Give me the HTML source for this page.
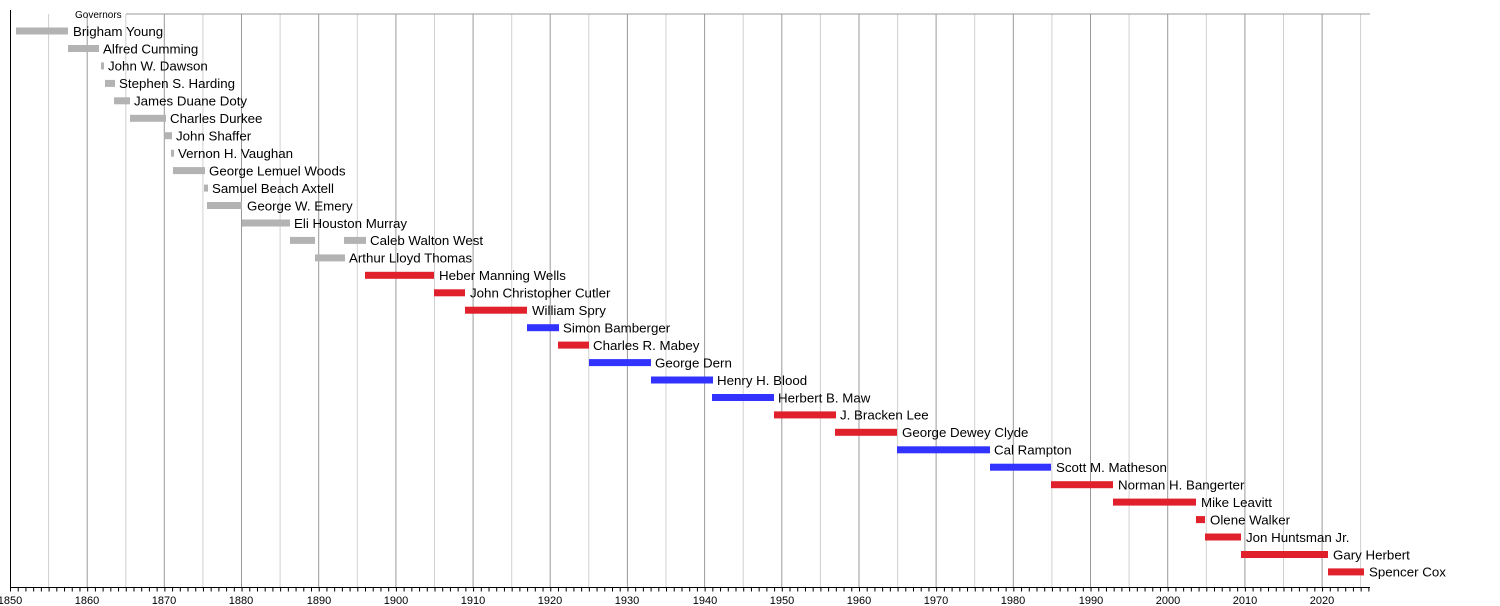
<!DOCTYPE html>
<html><head><meta charset="utf-8"><style>
html,body{margin:0;padding:0;background:#fff}
svg{display:block;font-family:"Liberation Sans",Arial,sans-serif}
</style></head><body>
<svg width="1500" height="606" xmlns="http://www.w3.org/2000/svg">
<g stroke-width="1">
<g stroke="#d0d0d0">
<line x1="48.6" y1="14" x2="48.6" y2="587"/><line x1="125.8" y1="14" x2="125.8" y2="587"/><line x1="202.9" y1="14" x2="202.9" y2="587"/><line x1="280.1" y1="14" x2="280.1" y2="587"/><line x1="357.3" y1="14" x2="357.3" y2="587"/><line x1="434.5" y1="14" x2="434.5" y2="587"/><line x1="511.7" y1="14" x2="511.7" y2="587"/><line x1="588.8" y1="14" x2="588.8" y2="587"/><line x1="666.0" y1="14" x2="666.0" y2="587"/><line x1="743.2" y1="14" x2="743.2" y2="587"/><line x1="820.4" y1="14" x2="820.4" y2="587"/><line x1="897.6" y1="14" x2="897.6" y2="587"/><line x1="974.7" y1="14" x2="974.7" y2="587"/><line x1="1051.9" y1="14" x2="1051.9" y2="587"/><line x1="1129.1" y1="14" x2="1129.1" y2="587"/><line x1="1206.3" y1="14" x2="1206.3" y2="587"/><line x1="1283.5" y1="14" x2="1283.5" y2="587"/><line x1="1360.6" y1="14" x2="1360.6" y2="587"/>
</g>
<g stroke="#999">
<line x1="87.2" y1="14" x2="87.2" y2="587"/><line x1="164.3" y1="14" x2="164.3" y2="587"/><line x1="241.5" y1="14" x2="241.5" y2="587"/><line x1="318.7" y1="14" x2="318.7" y2="587"/><line x1="395.9" y1="14" x2="395.9" y2="587"/><line x1="473.1" y1="14" x2="473.1" y2="587"/><line x1="550.2" y1="14" x2="550.2" y2="587"/><line x1="627.4" y1="14" x2="627.4" y2="587"/><line x1="704.6" y1="14" x2="704.6" y2="587"/><line x1="781.8" y1="14" x2="781.8" y2="587"/><line x1="859.0" y1="14" x2="859.0" y2="587"/><line x1="936.1" y1="14" x2="936.1" y2="587"/><line x1="1013.3" y1="14" x2="1013.3" y2="587"/><line x1="1090.5" y1="14" x2="1090.5" y2="587"/><line x1="1167.7" y1="14" x2="1167.7" y2="587"/><line x1="1244.9" y1="14" x2="1244.9" y2="587"/><line x1="1322.1" y1="14" x2="1322.1" y2="587"/>
</g>
<line x1="126" y1="14" x2="1370" y2="14" stroke="#999"/>
<line x1="10.5" y1="10" x2="10.5" y2="587" stroke="#000"/>
<line x1="10" y1="587.5" x2="1370" y2="587.5" stroke="#000"/>
<line x1="10" y1="589.5" x2="1370" y2="589.5" stroke="#000" stroke-width="4" stroke-dasharray="1 6.718"/>
</g>
<text x="75" y="18" font-size="10" fill="#000">Governors</text>
<g font-size="11" fill="#000" text-anchor="middle">
<text x="10" y="604">1850</text><text x="87" y="604">1860</text><text x="164" y="604">1870</text><text x="241" y="604">1880</text><text x="319" y="604">1890</text><text x="396" y="604">1900</text><text x="473" y="604">1910</text><text x="550" y="604">1920</text><text x="627" y="604">1930</text><text x="705" y="604">1940</text><text x="782" y="604">1950</text><text x="859" y="604">1960</text><text x="936" y="604">1970</text><text x="1013" y="604">1980</text><text x="1091" y="604">1990</text><text x="1168" y="604">2000</text><text x="1245" y="604">2010</text><text x="1322" y="604">2020</text>
</g>
<g fill="#b3b3b3">
<rect x="16" y="27.5" width="52" height="7"/>
<rect x="68" y="45" width="31" height="7"/>
<rect x="101" y="62.4" width="3" height="7"/>
<rect x="105" y="79.9" width="10" height="7"/>
<rect x="114" y="97.3" width="16" height="7"/>
<rect x="130" y="114.8" width="36" height="7"/>
<rect x="165" y="132.2" width="7" height="7"/>
<rect x="171" y="149.7" width="3" height="7"/>
<rect x="173" y="167.1" width="32" height="7"/>
<rect x="204" y="184.6" width="4" height="7"/>
<rect x="207" y="202" width="35" height="7"/>
<rect x="242" y="219.5" width="48" height="7"/>
<rect x="290" y="236.9" width="25" height="7"/>
<rect x="344" y="236.9" width="22" height="7"/>
<rect x="315" y="254.4" width="30" height="7"/>
</g>
<g fill="#e0202a">
<rect x="365" y="271.8" width="69" height="7"/>
<rect x="434" y="289.3" width="31" height="7"/>
<rect x="465" y="306.7" width="62" height="7"/>
<rect x="558" y="341.6" width="31" height="7"/>
<rect x="774" y="411.4" width="62" height="7"/>
<rect x="835" y="428.8" width="62" height="7"/>
<rect x="1051" y="481.2" width="62" height="7"/>
<rect x="1113" y="498.6" width="83" height="7"/>
<rect x="1196" y="516.1" width="9" height="7"/>
<rect x="1205" y="533.5" width="36" height="7"/>
<rect x="1241" y="551" width="87" height="7"/>
<rect x="1328" y="568.4" width="36" height="7"/>
</g>
<g fill="#3333ff">
<rect x="527" y="324.2" width="32" height="7"/>
<rect x="589" y="359.1" width="62" height="7"/>
<rect x="651" y="376.5" width="62" height="7"/>
<rect x="712" y="394" width="62" height="7"/>
<rect x="897" y="446.3" width="93" height="7"/>
<rect x="990" y="463.7" width="61" height="7"/>
</g>
<g font-size="13.3" fill="#000">
<text x="73" y="35.8">Brigham Young</text>
<text x="103" y="53.3">Alfred Cumming</text>
<text x="108" y="70.7">John W. Dawson</text>
<text x="119" y="88.2">Stephen S. Harding</text>
<text x="134" y="105.6">James Duane Doty</text>
<text x="170" y="123.1">Charles Durkee</text>
<text x="176" y="140.5">John Shaffer</text>
<text x="178" y="158">Vernon H. Vaughan</text>
<text x="209" y="175.4">George Lemuel Woods</text>
<text x="212" y="192.9">Samuel Beach Axtell</text>
<text x="247" y="210.3">George W. Emery</text>
<text x="294" y="227.8">Eli Houston Murray</text>
<text x="370" y="245.2">Caleb Walton West</text>
<text x="349" y="262.7">Arthur Lloyd Thomas</text>
<text x="439" y="280.1">Heber Manning Wells</text>
<text x="470" y="297.6">John Christopher Cutler</text>
<text x="532" y="315">William Spry</text>
<text x="563" y="332.5">Simon Bamberger</text>
<text x="593" y="349.9">Charles R. Mabey</text>
<text x="655" y="367.4">George Dern</text>
<text x="717" y="384.8">Henry H. Blood</text>
<text x="778" y="402.3">Herbert B. Maw</text>
<text x="840" y="419.7">J. Bracken Lee</text>
<text x="902" y="437.1">George Dewey Clyde</text>
<text x="994" y="454.6">Cal Rampton</text>
<text x="1056" y="472">Scott M. Matheson</text>
<text x="1118" y="489.5">Norman H. Bangerter</text>
<text x="1201" y="506.9">Mike Leavitt</text>
<text x="1210" y="524.4">Olene Walker</text>
<text x="1246" y="541.8">Jon Huntsman Jr.</text>
<text x="1333" y="559.3">Gary Herbert</text>
<text x="1369" y="576.7">Spencer Cox</text>
</g>
</svg>
</body></html>
